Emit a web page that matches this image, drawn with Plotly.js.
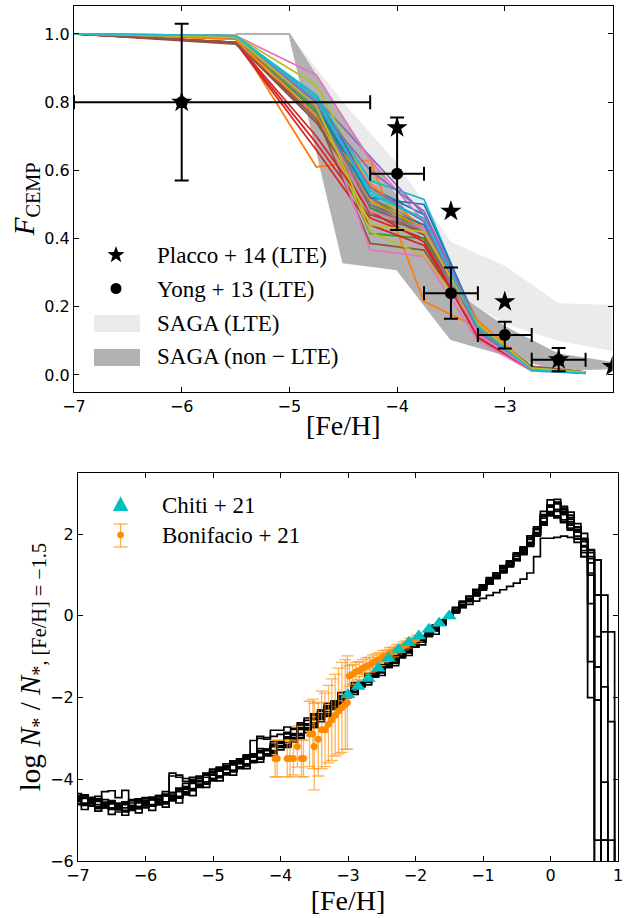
<!DOCTYPE html>
<html><head><meta charset="utf-8">
<script src="https://cdn.plot.ly/plotly-3.0.1.min.js"></script>
<style>html,body{margin:0;padding:0;background:#fff}#chart{width:624px;height:918px}</style>
</head><body><div id="chart"></div>
<script>
// ================= TOP PANEL DATA =================
const modelFeH = [-7, -5.5, -4.75, -4.25, -3.75, -3.25, -2.75, -2.25];
const modelRuns = [
  [1, 0.99, 0.82, 0.55, 0.47, 0.13, 0.02, 0.006],
  [1, 0.99, 0.61, 0.63, 0.215, 0.14, 0.015, 0.008],
  [1, 0.99, 0.79, 0.52, 0.42, 0.12, 0.015, 0.006],
  [1, 0.975, 0.68, 0.46, 0.40, 0.11, 0.015, 0.006],
  [1, 0.99, 0.81, 0.64, 0.47, 0.14, 0.02, 0.007],
  [1, 0.97, 0.76, 0.386, 0.366, 0.13, 0.025, 0.008],
  [1, 0.995, 0.88, 0.63, 0.45, 0.12, 0.018, 0.007],
  [1, 0.99, 0.80, 0.52, 0.44, 0.13, 0.02, 0.007],
  [1, 0.995, 0.85, 0.55, 0.41, 0.15, 0.02, 0.008],
  [1, 0.995, 0.82, 0.57, 0.515, 0.14, 0.012, 0.005],
  [1, 0.99, 0.80, 0.52, 0.50, 0.15, 0.015, 0.006],
  [1, 0.985, 0.74, 0.56, 0.43, 0.16, 0.02, 0.007],
  [1, 0.99, 0.78, 0.415, 0.40, 0.14, 0.02, 0.007],
  [1, 0.975, 0.66, 0.44, 0.38, 0.12, 0.02, 0.007],
  [1, 0.99, 0.79, 0.60, 0.48, 0.15, 0.015, 0.006],
  [1, 0.975, 0.75, 0.47, 0.42, 0.13, 0.02, 0.008],
  [1, 0.995, 0.80, 0.367, 0.347, 0.10, 0.012, 0.006],
  [1, 0.99, 0.77, 0.49, 0.41, 0.12, 0.015, 0.006],
  [1, 0.99, 0.78, 0.42, 0.35, 0.14, 0.02, 0.007],
  [1, 0.99, 0.80, 0.54, 0.45, 0.13, 0.015, 0.006],
  [1, 0.99, 0.79, 0.50, 0.44, 0.14, 0.015, 0.006],
  [1, 0.985, 0.76, 0.51, 0.43, 0.15, 0.02, 0.008],
  [1, 0.99, 0.77, 0.49, 0.43, 0.13, 0.015, 0.006],
  [1, 0.975, 0.70, 0.48, 0.39, 0.11, 0.015, 0.006],
  [1, 0.99, 0.80, 0.55, 0.45, 0.13, 0.02, 0.007],
  [1, 0.975, 0.74, 0.50, 0.41, 0.14, 0.025, 0.008],
  [1, 0.99, 0.78, 0.48, 0.43, 0.12, 0.015, 0.006],
  [1, 0.99, 0.78, 0.50, 0.42, 0.14, 0.02, 0.007],
  [1, 0.99, 0.79, 0.44, 0.42, 0.15, 0.02, 0.008],
  [1, 0.995, 0.81, 0.53, 0.46, 0.14, 0.015, 0.005]
];
const tab10 = ['#1f77b4','#ff7f0e','#2ca02c','#d62728','#9467bd','#8c564b','#e377c2','#7f7f7f','#bcbd22','#17becf'];

const sagaFeH       = [-5.5, -5.0, -4.5, -4.0, -3.5, -3.0, -2.5, -2.0];
const sagaLteUpper  = [1.0, 1.0, 0.80, 0.62, 0.39, 0.32, 0.21, 0.205];
const sagaLteLower  = [1.0, 1.0, 0.45, 0.38, 0.25, 0.15, 0.10, 0.07];
const sagaNlteUpper = [1.0, 1.0, 0.75, 0.52, 0.25, 0.14, 0.06, 0.035];
const sagaNlteLower = [1.0, 1.0, 0.33, 0.31, 0.105, 0.06, 0.015, 0.02];

const placcoFeH = [-6, -4, -3.5, -3, -2.5, -2];
const placcoF   = [0.80, 0.725, 0.48, 0.215, 0.045, 0.025];

const yongFeH       = [-6, -4, -3.5, -3, -2.5];
const yongF         = [0.80, 0.59, 0.24, 0.117, 0.045];
const yongErrF      = [0.23, 0.165, 0.075, 0.039, 0.034];
const yongErrFeHUp  = [1.75, 0.25, 0.25, 0.25, 0.25];
const yongErrFeHLow = [1.0, 0.25, 0.25, 0.25, 0.25];

const topXTicks = [-7, -6, -5, -4, -3, -2];
const topYTicks = [0.0, 0.2, 0.4, 0.6, 0.8, 1.0];

// ================= BOTTOM PANEL DATA =================
// step histograms, bin width 0.1 dex, first bin centred on [Fe/H] = -7.0
const histFirstCentre = -7.0;
const histBinWidth = 0.1;
const h1 = [-4.45,-4.38,-4.55,-4.48,-4.62,-4.52,-4.70,-4.60,-4.66,-4.52,
  -4.60,-4.48,-4.56,-4.40,-4.46,-4.26,-4.30,-4.05,-4.12,-3.88,
  -3.98,-3.75,-3.84,-3.62,-3.70,-3.45,-3.55,-3.30,-3.38,-3.14,
  -3.20,-2.96,-3.00,-2.74,-2.78,-2.50,-2.52,-2.22,-2.24,-1.95,
  -1.96,-1.70,-1.72,-1.46,-1.49,-1.24,-1.26,-1.00,-1.02,-0.75,
  -0.76,-0.49,-0.50,-0.24,-0.22,0.00,0.08,0.34,0.36,0.62,
  0.64,0.92,0.93,1.20,1.22,1.52,1.56,1.92,2.04,2.48,
  2.66,2.85,2.64,2.54,2.18,2.02,1.62,0.51,-0.39,-2.59];
const h2 = [-4.55,-4.58,-4.60,-4.62,-4.66,-4.70,-4.72,-4.70,-4.68,-4.66,
  -4.64,-4.62,-4.60,-4.55,-4.50,-4.42,-4.33,-4.24,-4.14,-4.06,
  -3.98,-3.92,-3.84,-3.78,-3.70,-3.62,-3.55,-3.47,-3.38,-3.30,
  -3.20,-3.10,-3.00,-2.88,-2.75,-2.62,-2.48,-2.34,-2.19,-2.05,
  -1.92,-1.80,-1.68,-1.56,-1.45,-1.33,-1.21,-1.09,-0.97,-0.84,
  -0.71,-0.58,-0.45,-0.32,-0.16,0.00,0.11,0.20,0.28,0.36,
  0.43,0.50,0.57,0.64,0.72,0.80,0.90,1.05,1.45,1.90,
  1.90,1.92,1.95,1.92,1.80,1.45,-1.12];
const h3 = [-4.35,-4.40,-4.44,-4.48,-4.30,-4.28,-4.45,-4.27,-4.50,-4.48,
  -4.45,-4.50,-4.40,-4.38,-3.92,-3.95,-4.05,-4.00,-3.98,-3.85,
  -3.80,-3.72,-3.66,-3.60,-3.52,-3.45,-3.38,-2.95,-2.98,-2.80,
  -2.80,-2.72,-2.75,-2.62,-2.50,-2.40,-2.30,-2.20,-2.08,-1.96,
  -1.86,-1.75,-1.63,-1.52,-1.41,-1.30,-1.19,-1.07,-0.95,-0.82,
  -0.69,-0.56,-0.43,-0.30,-0.15,0.00,0.13,0.27,0.41,0.54,
  0.68,0.82,0.96,1.10,1.24,1.38,1.55,1.76,2.00,2.28,
  2.50,2.45,2.35,2.15,1.95,1.55,1.30,1.37,-1.74];
const h4 = [-4.62,-4.74,-4.66,-4.78,-4.70,-4.86,-4.80,-4.88,-4.76,-4.82,
  -4.70,-4.76,-4.62,-4.68,-4.52,-4.58,-4.36,-4.40,-4.16,-4.20,
  -4.00,-4.04,-3.84,-3.90,-3.70,-3.74,-3.54,-3.58,-3.38,-3.42,
  -3.20,-3.22,-2.98,-3.00,-2.74,-2.72,-2.46,-2.43,-2.16,-2.14,
  -1.88,-1.87,-1.63,-1.63,-1.40,-1.39,-1.17,-1.15,-0.92,-0.90,
  -0.66,-0.64,-0.39,-0.37,-0.10,0.00,0.20,0.22,0.48,0.50,
  0.76,0.78,1.04,1.06,1.34,1.37,1.66,1.74,2.11,2.29,
  2.71,2.56,2.51,2.22,2.11,1.69,1.60,-0.51,-4.07];
const h5 = [-4.50,-4.40,-4.55,-4.52,-4.66,-4.56,-4.66,-4.62,-4.72,-4.58,
  -4.64,-4.50,-4.58,-4.40,-4.50,-4.30,-4.34,-4.10,-4.16,-3.95,
  -3.99,-3.80,-3.86,-3.64,-3.72,-3.50,-3.56,-3.34,-3.40,-3.18,
  -3.22,-3.00,-3.03,-2.77,-2.79,-2.52,-2.53,-2.25,-2.25,-1.97,
  -1.98,-1.72,-1.73,-1.48,-1.50,-1.25,-1.26,-1.01,-1.02,-0.76,
  -0.76,-0.50,-0.50,-0.24,-0.22,0.00,0.07,0.33,0.35,0.61,
  0.63,0.90,0.91,1.18,1.20,1.49,1.52,1.88,1.98,2.43,
  2.55,2.78,2.50,2.46,2.05,1.90,1.00,-1.25];
const h6 = [-4.42,-4.46,-4.50,-4.52,-4.56,-4.60,-4.62,-4.60,-4.58,-4.56,
  -4.52,-4.50,-4.46,-4.40,-4.36,-4.25,-4.18,-4.08,-3.98,-3.90,
  -3.84,-3.78,-3.70,-3.64,-3.58,-3.50,-3.42,-3.35,-3.28,-3.20,
  -3.10,-3.00,-2.90,-2.78,-2.66,-2.54,-2.42,-2.28,-2.15,-2.01,
  -1.88,-1.76,-1.64,-1.53,-1.42,-1.31,-1.19,-1.07,-0.95,-0.83,
  -0.70,-0.57,-0.44,-0.31,-0.16,0.00,0.13,0.27,0.41,0.55,
  0.69,0.83,0.97,1.11,1.25,1.40,1.56,1.76,2.00,2.28,
  2.48,2.42,2.30,2.10,1.88,1.45,0.30];
const h7 = [-4.52,-4.64,-4.58,-4.72,-4.64,-4.72,-4.66,-4.80,-4.66,-4.72,
  -4.56,-4.66,-4.52,-4.60,-4.42,-4.46,-4.24,-4.26,-4.06,-4.10,
  -3.90,-3.94,-3.76,-3.80,-3.62,-3.66,-3.46,-3.50,-3.30,-3.34,
  -3.12,-3.15,-2.92,-2.92,-2.68,-2.67,-2.42,-2.39,-2.13,-2.11,
  -1.86,-1.85,-1.61,-1.61,-1.38,-1.39,-1.15,-1.15,-0.91,-0.90,
  -0.65,-0.63,-0.38,-0.37,-0.10,0.00,0.20,0.22,0.48,0.50,
  0.76,0.79,1.05,1.08,1.35,1.39,1.69,1.80,2.18,2.39,
  2.84,2.74,2.68,2.36,2.26,1.82,1.40,0.51];
const h8 = [-4.40,-4.44,-4.48,-4.42,-4.50,-4.55,-4.58,-4.55,-4.52,-4.50,
  -4.48,-4.44,-4.42,-4.36,-4.32,-4.22,-4.10,-4.02,-3.94,-3.88,
  -3.82,-3.76,-3.68,-3.62,-3.55,-3.47,-3.40,-3.33,-3.26,-3.18,
  -3.08,-2.98,-2.88,-2.76,-2.64,-2.52,-2.40,-2.26,-2.13,-2.00,
  -1.87,-1.75,-1.63,-1.52,-1.41,-1.30,-1.18,-1.06,-0.94,-0.82,
  -0.69,-0.56,-0.43,-0.30,-0.15,0.00,0.13,0.27,0.40,0.54,
  0.68,0.82,0.96,1.10,1.24,1.38,1.54,1.74,1.98,2.25,
  2.52,2.60,2.48,2.30,2.08,1.70,-2.00,-5.49,-5.49];
const h9 = [-4.48,-4.44,-4.58,-4.51,-4.65,-4.56,-4.68,-4.57,-4.65,-4.52,
  -4.60,-4.46,-4.54,-4.38,-4.43,-4.22,-4.24,-4.03,-4.05,-3.86,
  -3.90,-3.72,-3.76,-3.57,-3.61,-3.42,-3.45,-3.25,-3.28,-3.08,
  -3.10,-2.89,-2.89,-2.66,-2.65,-2.41,-2.39,-2.14,-2.12,-1.88,
  -1.87,-1.64,-1.63,-1.41,-1.41,-1.19,-1.19,-0.97,-0.96,-0.73,
  -0.71,-0.48,-0.46,-0.22,-0.19,0.00,0.10,0.36,0.39,0.65,
  0.69,0.94,0.97,1.23,1.27,1.54,1.61,1.96,2.13,2.56,
  2.70,2.78,2.53,2.46,2.10,1.88,1.30,-2.06];
const h10 = [-4.60,-4.62,-4.64,-4.67,-4.70,-4.72,-4.75,-4.76,-4.74,-4.71,
  -4.68,-4.65,-4.62,-4.58,-4.52,-4.46,-4.38,-4.28,-4.20,-4.12,
  -4.04,-3.96,-3.89,-3.82,-3.74,-3.67,-3.59,-3.51,-3.43,-3.36,
  -3.28,-3.19,-3.09,-2.98,-2.86,-2.73,-2.59,-2.44,-2.29,-2.14,
  -2.00,-1.86,-1.73,-1.61,-1.49,-1.37,-1.25,-1.13,-1.00,-0.87,
  -0.74,-0.60,-0.46,-0.32,-0.17,0.00,0.12,0.25,0.39,0.52,
  0.66,0.80,0.93,1.07,1.21,1.35,1.50,1.70,1.95,2.22,
  2.45,2.40,2.28,2.12,1.90,1.60,1.05,-1.25,-5.49,-5.49];
const h11 = [-4.52,-4.47,-4.50,-4.54,-4.58,-4.55,-4.60,-4.56,-4.52,-4.50,
  -4.46,-4.44,-4.40,-4.30,-3.85,-3.90,-3.98,-3.95,-3.92,-3.88,
  -3.75,-3.70,-3.62,-3.55,-3.50,-3.40,-3.05,-3.00,-3.02,-2.95,
  -2.90,-2.85,-2.78,-2.68,-2.56,-2.44,-2.33,-2.22,-2.10,-1.98,
  -1.86,-1.74,-1.62,-1.51,-1.40,-1.29,-1.17,-1.05,-0.93,-0.80,
  -0.68,-0.55,-0.42,-0.29,-0.15,0.00,0.14,0.28,0.43,0.57,
  0.72,0.86,1.00,1.15,1.30,1.46,1.64,1.87,2.14,2.44,
  2.68,2.76,2.60,2.40,2.18,1.86,1.55,1.37,0.51,-0.39];
const h12 = [-4.50,-4.60,-4.52,-4.68,-4.58,-4.74,-4.62,-4.78,-4.64,-4.70,
  -4.56,-4.66,-4.50,-4.58,-4.40,-4.43,-4.21,-4.23,-4.03,-4.06,
  -3.87,-3.92,-3.73,-3.78,-3.58,-3.63,-3.43,-3.47,-3.27,-3.31,
  -3.18,-3.20,-2.98,-2.98,-2.74,-2.73,-2.48,-2.46,-2.20,-2.18,
  -1.93,-1.92,-1.68,-1.69,-1.45,-1.46,-1.22,-1.22,-0.98,-0.97,
  -0.72,-0.71,-0.46,-0.45,-0.18,0.00,0.20,0.21,0.47,0.49,
  0.76,0.78,1.04,1.06,1.33,1.36,1.65,1.75,2.12,2.30,
  2.70,2.60,2.56,2.26,2.16,1.72,1.45,-2.06];
const histograms = [h1, h2, h3, h4, h5, h6, h7, h8, h9, h10, h11, h12];

const chitiFeH = [-3.0, -2.85, -2.7, -2.55, -2.4, -2.25, -2.1, -1.95, -1.8, -1.65, -1.5];
const chitiN   = [-1.93, -1.73, -1.53, -1.28, -1.04, -0.82, -0.65, -0.49, -0.33, -0.18, 0.0];

const bonFeH = [-4.08, -4.05, -3.90, -3.86, -3.81, -3.75, -3.69, -3.66, -3.57, -3.52, -3.50, -3.44,
  -3.39, -3.34, -3.29, -3.24, -3.19, -3.14, -3.09, -3.04, -3.01,
  -2.98, -2.93, -2.88, -2.83, -2.78, -2.73, -2.68, -2.63, -2.58, -2.53, -2.48,
  -2.43, -2.38, -2.33, -2.28, -2.23, -2.18, -2.13, -2.08, -2.03, -1.98];
const bonN = [-3.49, -3.49, -3.49, -3.49, -3.49, -3.20, -3.49, -3.49, -2.89, -2.89, -3.20, -3.02,
  -2.79, -2.79, -2.65, -2.54, -2.43, -2.33, -2.24, -2.17, -2.12,
  -1.47, -1.43, -1.37, -1.34, -1.28, -1.23, -1.20, -1.14, -1.10, -1.06, -1.00,
  -0.97, -0.91, -0.88, -0.82, -0.79, -0.73, -0.70, -0.64, -0.60, -0.55];
const bonErr = [0.45, 0.45, 0.45, 0.45, 0.40, 0.50, 0.45, 0.45, 0.80, 0.85, 1.06, 0.90,
  0.95, 0.90, 0.95, 1.00, 1.00, 1.05, 1.10, 1.10, 1.14,
  0.25, 0.24, 0.23, 0.22, 0.21, 0.20, 0.19, 0.18, 0.17, 0.16, 0.15,
  0.14, 0.13, 0.12, 0.11, 0.10, 0.10, 0.09, 0.09, 0.08, 0.08];

const botXTicks = [-7, -6, -5, -4, -3, -2, -1, 0, 1];
const botYTicks = [-6, -4, -2, 0, 2];

// ================= TRACES =================
const traces = [];
function band(xs, up, lo, fill, lw) {
  return {x: xs.concat(xs.slice().reverse()), y: up.concat(lo.slice().reverse()),
    xaxis:'x', yaxis:'y', mode:'lines', fill:'toself', fillcolor:fill,
    line:{color: fill, width: lw}, hoverinfo:'skip'};
}
traces.push(band(sagaFeH, sagaLteUpper, sagaLteLower, '#ebebeb', 0));
traces.push(band(sagaFeH, sagaNlteUpper, sagaNlteLower, '#b2b2b2', 2));
modelRuns.forEach((run, k) => {
  traces.push({x: modelFeH, y: run, xaxis:'x', yaxis:'y', mode:'lines',
    line:{color: tab10[k % 10], width: 1.8}});
});
traces.push({x: yongFeH, y: yongF, xaxis:'x', yaxis:'y', mode:'markers',
  marker:{symbol:'circle', size:12, color:'#000'},
  error_y:{type:'data', array: yongErrF, color:'#000', thickness:2, width:7},
  error_x:{type:'data', symmetric:false, array: yongErrFeHUp, arrayminus: yongErrFeHLow, color:'#000', thickness:2, width:7}});
traces.push({x: placcoFeH, y: placcoF, xaxis:'x', yaxis:'y', mode:'markers',
  marker:{symbol:'star', size:16, color:'#000', line:{width:0}}});

histograms.forEach(h => {
  const xs = [], ys = [];
  h.forEach((v, i) => { xs.push(histFirstCentre + (i - 0.5) * histBinWidth); ys.push(v); });
  xs.push(histFirstCentre + (h.length - 0.5) * histBinWidth); ys.push(-9);
  traces.push({x: xs, y: ys, xaxis:'x2', yaxis:'y2', mode:'lines',
    line:{shape:'hv', color:'#000', width:1.7}});
});
traces.push({x: bonFeH, y: bonN, xaxis:'x2', yaxis:'y2', mode:'markers',
  marker:{symbol:'circle', size:7, color:'#ff8c00'},
  error_y:{type:'data', array: bonErr, color:'rgba(255,140,0,0.65)', thickness:1.3, width:6}});
traces.push({x: chitiFeH, y: chitiN, xaxis:'x2', yaxis:'y2', mode:'markers',
  marker:{symbol:'triangle-up', size:13, color:'#00bfbf'}});

// ================= LAYOUT =================
const W = 624, H = 918;
const px = v => v / W, py = v => 1 - v / H;
const tickFont = {family:'DejaVu Sans', size:16, color:'#000'};
const serif = 'Liberation Serif';
const axBase = {showgrid:false, zeroline:false, ticks:'inside', ticklen:5, tickwidth:1,
  tickcolor:'#000', showline:true, linecolor:'#000', linewidth:1, mirror:'ticks', tickfont:tickFont};

function starPath(cx, cy, R, r) {
  let d = '';
  for (let k = 0; k < 10; k++) {
    const a = -Math.PI / 2 + k * Math.PI / 5, rad = (k % 2 === 0) ? R : r;
    d += (k === 0 ? 'M' : 'L') + px(cx + rad * Math.cos(a)).toFixed(5) + ',' + py(cy + rad * Math.sin(a)).toFixed(5);
  }
  return d + 'Z';
}
function triPath(cx, cy, s) {
  return 'M' + px(cx) + ',' + py(cy - s * 0.62) + 'L' + px(cx + s * 0.55) + ',' + py(cy + s * 0.42) +
    'L' + px(cx - s * 0.55) + ',' + py(cy + s * 0.42) + 'Z';
}
const shapes = [
  {type:'path', xref:'paper', yref:'paper', path: starPath(116, 255, 9, 3.6), fillcolor:'#000', line:{width:0}},
  {type:'circle', xref:'paper', yref:'paper', x0:px(110.5), x1:px(121.5), y0:py(294), y1:py(283), fillcolor:'#000', line:{width:0}},
  {type:'rect', xref:'paper', yref:'paper', x0:px(94), x1:px(140), y0:py(332), y1:py(315), fillcolor:'#ebebeb', line:{width:0}},
  {type:'rect', xref:'paper', yref:'paper', x0:px(94), x1:px(140), y0:py(366), y1:py(349), fillcolor:'#b2b2b2', line:{width:0}},
  {type:'path', xref:'paper', yref:'paper', path: triPath(120.6, 505, 14), fillcolor:'#00bfbf', line:{width:0}},
  {type:'line', xref:'paper', yref:'paper', x0:px(120.6), x1:px(120.6), y0:py(524), y1:py(547), line:{color:'rgba(255,140,0,0.7)', width:1.3}},
  {type:'line', xref:'paper', yref:'paper', x0:px(113.5), x1:px(127.5), y0:py(524), y1:py(524), line:{color:'rgba(255,140,0,0.7)', width:1.3}},
  {type:'line', xref:'paper', yref:'paper', x0:px(113.5), x1:px(127.5), y0:py(547), y1:py(547), line:{color:'rgba(255,140,0,0.7)', width:1.3}},
  {type:'circle', xref:'paper', yref:'paper', x0:px(117.3), x1:px(123.9), y0:py(538.3), y1:py(531.7), fillcolor:'#ff8c00', line:{width:0}}
];
const legFont = {family: serif, size: 23, color:'#000'};
const legText = (t, x, y) => ({text:t, xref:'paper', yref:'paper', x:px(x), y:py(y), xanchor:'left', yanchor:'middle', showarrow:false, font:legFont});
const annotations = [
  legText('Placco + 14 (LTE)', 155, 255),
  legText('Yong + 13 (LTE)', 155, 289),
  legText('SAGA (LTE)', 155, 323),
  legText('SAGA (non − LTE)', 155, 357),
  legText('Chiti + 21', 160, 505),
  legText('Bonifacio + 21', 160, 535)
];

const layout = {
  width: W, height: H, margin:{l:0, r:0, t:0, b:0}, showlegend:false,
  paper_bgcolor:'#fff', plot_bgcolor:'#fff',
  xaxis: Object.assign({}, axBase, {domain:[px(74), px(612.5)], range:[-7, -2], tickvals: topXTicks, anchor:'y',
    title:{text:'[Fe/H]', font:{family: serif, size:28, color:'#000'}, standoff:0}}),
  yaxis: Object.assign({}, axBase, {domain:[py(391.7), py(6)], range:[-0.049, 1.082], tickvals: topYTicks, tickformat:'.1f', anchor:'x',
    title:{text:'<i>F</i><sub>CEMP</sub>', font:{family: serif, size:29, color:'#000'}, standoff:0}}),
  xaxis2: Object.assign({}, axBase, {domain:[px(78), px(618)], range:[-7, 1], tickvals: botXTicks, anchor:'y2',
    title:{text:'[Fe/H]', font:{family: serif, size:28, color:'#000'}, standoff:0}}),
  yaxis2: Object.assign({}, axBase, {domain:[py(861), py(473.3)], range:[-6, 3.49], tickvals: botYTicks, anchor:'x2',
    title:{text:'log <i>N</i><sub>*</sub> / <i>N</i><sub>*, [Fe/H] = −1.5</sub>', font:{family: serif, size:29, color:'#000'}, standoff:0}}),
  shapes: shapes,
  annotations: annotations
};
Plotly.newPlot('chart', traces, layout, {staticPlot:true, displayModeBar:false});
</script></body></html>
